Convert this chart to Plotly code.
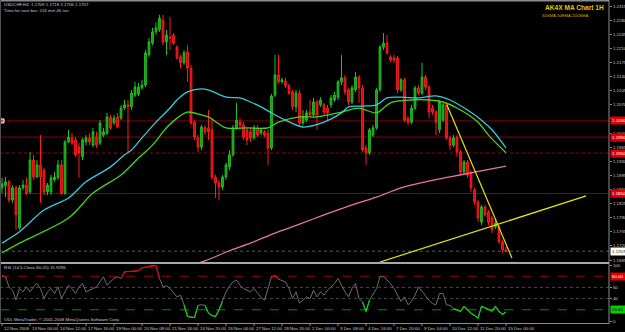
import plotly.graph_objects as go

W, H = 625, 332
AXIS_PX = 609          # right price-axis line (pixels)
MAIN_BOTTOM_PX = 262   # bottom of price panel
RSI_TOP_PX, RSI_BOT_PX = 265, 321

# ---------------- data ----------------
opens = [1.1864,1.1869,1.1879,1.1834,1.1864,1.1765,1.1864,1.1871,1.1854,1.1933,
         1.1891,1.1921,1.1908,1.1854,1.1854,1.1884,1.1889,1.1921,1.1851,1.1978,
         1.1988,1.1983,1.1965,1.1941,1.1978,1.1988,1.1970,1.1990,1.1975,1.1995,
         1.2000,1.2040,1.2025,1.2040,1.2037,1.2062,1.2070,1.2065,1.2094,1.2097,
         1.2112,1.2119,1.2194,1.2223,1.2251,1.2256,1.2280,1.2226,1.2238,1.2243,
         1.2213,1.2189,1.2174,1.2201,1.2161,1.2027,1.1988,1.1965,1.2013,1.2013,
         1.2008,1.1891,1.1876,1.1866,1.1891,1.1916,1.1946,1.2013,1.2027,1.2020,
         1.2008,1.2003,1.1988,1.2013,1.2000,1.2003,1.2000,1.1963,1.2094,1.2144,
         1.2127,1.2129,1.2117,1.2102,1.2065,1.2099,1.2025,1.2032,1.2052,1.2045,
         1.2077,1.2070,1.2070,1.2062,1.2070,1.2082,1.2089,1.2127,1.2137,1.2107,
         1.2077,1.2107,1.2139,1.2112,1.1963,1.1951,1.1995,1.2013,1.2107,1.2213,
         1.2223,1.2189,1.2186,1.2186,1.2107,1.2132,1.2037,1.2027,1.2062,1.2112,
         1.2099,1.2139,1.2114,1.2062,1.2052,1.2008,1.2032,1.2070,1.1988,1.1970,
         1.1990,1.1953,1.1903,1.1928,1.1901,1.1859,1.1829,1.1779,1.1817,1.1804,
         1.1789,1.1767,1.1767,1.1730,1.1709]
highs = [1.1889,1.1891,1.1884,1.1871,1.1869,1.1871,1.1884,1.1889,1.1953,1.1946,
         1.1933,1.1995,1.1913,1.1876,1.1896,1.1903,1.1933,1.1933,1.1983,1.2008,
         1.2000,1.1990,1.1975,1.1988,1.1995,1.2000,1.2013,1.2003,1.2032,1.2013,
         1.2050,1.2045,1.2045,1.2050,1.2070,1.2082,1.2082,1.2107,1.2127,1.2124,
         1.2132,1.2206,1.2236,1.2261,1.2275,1.2293,1.2293,1.2256,1.2288,1.2248,
         1.2218,1.2194,1.2206,1.2218,1.2169,1.2032,1.1995,1.2020,1.2020,1.2057,
         1.2032,1.1896,1.1884,1.1896,1.1926,1.1958,1.2020,1.2075,1.2037,1.2027,
         1.2013,1.2013,1.2020,1.2020,1.2013,1.2008,1.2008,1.2097,1.2194,1.2194,
         1.2137,1.2137,1.2122,1.2107,1.2107,1.2107,1.2057,1.2057,1.2082,1.2087,
         1.2082,1.2089,1.2075,1.2070,1.2094,1.2102,1.2132,1.2194,1.2144,1.2112,
         1.2119,1.2151,1.2144,1.2119,1.1970,1.2013,1.2020,1.2112,1.2218,1.2248,
         1.2243,1.2194,1.2194,1.2191,1.2137,1.2137,1.2042,1.2070,1.2117,1.2119,
         1.2174,1.2144,1.2119,1.2070,1.2057,1.2082,1.2075,1.2075,1.1993,1.1995,
         1.1995,1.1958,1.1933,1.1933,1.1908,1.1864,1.1834,1.1822,1.1822,1.1809,
         1.1794,1.1784,1.1772,1.1735,1.1718]
lows =  [1.1851,1.1841,1.1827,1.1827,1.1760,1.1760,1.1859,1.1846,1.1849,1.1884,
         1.1889,1.1827,1.1846,1.1846,1.1846,1.1879,1.1884,1.1846,1.1846,1.1975,
         1.1970,1.1941,1.1889,1.1933,1.1970,1.1970,1.1965,1.1963,1.1970,1.1990,
         1.1995,1.2008,1.2020,1.2013,1.2032,1.2057,1.1951,1.2057,1.2089,1.2092,
         1.2107,1.2114,1.2189,1.2218,1.2243,1.2251,1.2218,1.2194,1.2206,1.2218,
         1.2181,1.2161,1.2169,1.2127,1.2020,1.1983,1.1953,1.1958,1.1995,1.1983,
         1.1884,1.1839,1.1834,1.1859,1.1884,1.1908,1.1941,1.2008,1.2008,1.1983,
         1.1970,1.1978,1.1983,1.1990,1.1995,1.1990,1.1921,1.1958,1.2089,1.2122,
         1.2122,1.2112,1.2094,1.2057,1.2052,1.2020,1.2020,1.2027,1.2040,1.2040,
         1.2008,1.2065,1.2045,1.2032,1.2062,1.2077,1.2082,1.2119,1.2094,1.2070,
         1.2072,1.2102,1.2075,1.1953,1.1921,1.1946,1.1990,1.2008,1.2102,1.2206,
         1.2194,1.2176,1.2174,1.2099,1.2102,1.2027,1.2020,1.2022,1.2057,1.2094,
         1.2094,1.2107,1.2037,1.2045,1.1995,1.2000,1.2027,1.1983,1.1958,1.1965,
         1.1941,1.1896,1.1898,1.1889,1.1854,1.1822,1.1779,1.1772,1.1792,1.1772,
         1.1752,1.1762,1.1725,1.1703,1.1706]
closes = [1.1874,1.1879,1.1834,1.1864,1.1797,1.1864,1.1871,1.1851,1.1933,1.1891,
          1.1921,1.1891,1.1854,1.1871,1.1889,1.1891,1.1921,1.1851,1.1978,1.1990,
          1.1975,1.1946,1.1951,1.1983,1.1988,1.1978,1.2003,1.1970,1.2025,1.2003,
          1.2040,1.2013,1.2037,1.2015,1.2062,1.2070,1.2065,1.2099,1.2114,1.2114,
          1.2119,1.2199,1.2226,1.2251,1.2261,1.2285,1.2226,1.2243,1.2236,1.2223,
          1.2186,1.2174,1.2199,1.2161,1.2025,1.1990,1.1965,1.2015,1.2003,1.2003,
          1.1891,1.1876,1.1866,1.1891,1.1921,1.1946,1.2013,1.2032,1.2020,1.1990,
          1.1983,1.1988,1.2013,1.1995,1.2008,1.1995,1.1963,1.2092,1.2144,1.2127,
          1.2132,1.2117,1.2099,1.2065,1.2099,1.2025,1.2040,1.2050,1.2045,1.2077,
          1.2045,1.2082,1.2052,1.2050,1.2087,1.2094,1.2127,1.2137,1.2102,1.2077,
          1.2112,1.2139,1.2112,1.1958,1.1951,1.2008,1.2013,1.2107,1.2213,1.2223,
          1.2199,1.2181,1.2181,1.2107,1.2132,1.2032,1.2027,1.2062,1.2112,1.2099,
          1.2139,1.2114,1.2052,1.2052,1.2027,1.2077,1.2070,1.1988,1.1970,1.1988,
          1.1953,1.1903,1.1928,1.1896,1.1864,1.1829,1.1789,1.1817,1.1797,1.1779,
          1.1760,1.1777,1.1730,1.1710,1.1707]
bars = list(range(len(closes)))

rsi = [81,79,61,55,38,58,52,61,52,61, 67,58,40,52,58,49,61,40,52,64,
       58,49,61,67,52,55,58,61,70,79, 64,70,76,79,76,88,88,89,89,90,
       95,96,98,99,99,76,61,63,58,50, 43,46,29,8,7,6,28,29,28,14,
       10,8,20,35,52,62,70,73,64,58, 55,52,58,49,42,37,58,79,81,75,
       72,70,58,40,52,32,37,43,40,55, 43,52,46,55,61,67,76,64,52,43,
       58,67,40,34,17,37,48,58,79,79, 73,67,58,45,35,43,29,35,46,61,
       52,45,37,31,29,49,49,29,28,22, 20,17,26,20,14,10,5,26,23,20,
       18,26,17,12,15.93]

sma34_bar = [0,5,12,19,24,31,35,37,40,44,48,50,53,58,64,68,71,74,77,81,86,92,97,99,
             103,107,110,114,119,124,128,133,137,140,144]
sma34_val = [1.1727,1.1755,1.1809,1.1839,1.1879,1.1916,1.1946,1.1958,1.1988,1.2027,
             1.2062,1.2082,1.2102,1.2109,1.2089,1.2087,1.2077,1.2065,1.2050,1.2032,
             1.2015,1.2027,1.2050,1.2065,1.2067,1.2070,1.2087,1.2089,1.2087,1.2092,
             1.2082,1.2057,1.2032,1.2008,1.1963]
ema50_bar = [0,5,19,26,34,39,43,47,50,53,57,59,64,70,76,79,85,90,97,102,107,111,117,
             122,126,130,136,139,144]
ema50_val = [1.1703,1.1727,1.1789,1.1851,1.1896,1.1938,1.1970,1.2013,1.2037,1.2052,
             1.2045,1.2040,1.2013,1.2013,1.2013,1.2027,1.2040,1.2040,1.2052,1.2062,
             1.2050,1.2075,1.2082,1.2082,1.2077,1.2062,1.2027,1.1995,1.1951]
ma200_bar = [55,58,65,71,78,85,92,99,107,114,121,128,135,144]
ma200_val = [1.1675,1.1683,1.1708,1.1727,1.1752,1.1774,1.1797,1.1819,1.1841,1.1864,
             1.1879,1.1891,1.1903,1.1918]

trend_down_bar = [127.1, 145.7]
trend_down_val = [1.2070, 1.1690]
trend_up_bar = [108.0, 166.9]
trend_up_val = [1.1680, 1.1844]

levels = [1.2030, 1.1990, 1.1950, 1.1850]
level_text = ["1.2030", "1.1990", "1.1950", "1.1850"]
level_dash = ["solid", "solid", "dot", "solid"]
bid = 1.1707

price_ticks = [1.1685,1.1720,1.1755,1.1790,1.1825,1.1860,1.1895,1.1930,1.1965,1.2000,
               1.2035,1.2070,1.2105,1.2140,1.2175,1.2210,1.2245,1.2280,1.2315]
rsi_ticks = [0, 40, 60, 100]
rsi_levels = [80, 60, 40, 20]

time_bar = [0,8,16,24,32,40,48,56,64,72,80,88,96,104,112,120,128,136,144]
time_text = ["12 Nov 2008","13 Nov 04:00","14 Nov 12:00","17 Nov 16:00","19 Nov 00:00",
             "20 Nov 08:00","21 Nov 16:00","24 Nov 20:00","26 Nov 04:00","27 Nov 12:00",
             "28 Nov 20:00","2 Dec 00:00","3 Dec 08:00","4 Dec 16:00","7 Dec 20:00",
             "9 Dec 04:00","10 Dec 12:00","11 Dec 20:00","15 Dec 00:00"]

# ---------------- geometry helpers ----------------
def py(px):  # pixel row -> paper y
    return 1 - px / H

XD = AXIS_PX / W
BAR_PX = 3.5
X0_PX = 2.0
x_range = [-X0_PX / BAR_PX, (AXIS_PX - X0_PX) / BAR_PX]
PSLOPE = 0.0035 / 14.11
p_top = 1.2315 + 6.05 * PSLOPE
p_bot = p_top - MAIN_BOTTOM_PX * PSLOPE

FONT = "Liberation Sans"
TXT = "#c8c8c8"
FS = 4.4

fig = go.Figure()

fig.add_trace(go.Candlestick(
    x=bars, open=opens, high=highs, low=lows, close=closes,
    xaxis="x", yaxis="y",
    increasing=dict(line=dict(color="#22c022", width=1), fillcolor="#149a14"),
    decreasing=dict(line=dict(color="#ff1c1c", width=1), fillcolor="#e40000"),
    whiskerwidth=0, showlegend=False, hoverinfo="skip"))

for bx, vy, col, wd in [(ma200_bar, ma200_val, "#e676a8", 1.3),
                        (ema50_bar, ema50_val, "#44d41c", 1.3),
                        (sma34_bar, sma34_val, "#38cadc", 1.3)]:
    fig.add_trace(go.Scatter(x=bx, y=vy, mode="lines", xaxis="x", yaxis="y",
                             line=dict(color=col, width=wd, shape="spline", smoothing=0.9),
                             showlegend=False, hoverinfo="skip"))

for bx, vy in [(trend_down_bar, trend_down_val), (trend_up_bar, trend_up_val)]:
    fig.add_trace(go.Scatter(x=bx, y=vy, mode="lines", xaxis="x", yaxis="y",
                             line=dict(color="#e6e600", width=1.2),
                             showlegend=False, hoverinfo="skip"))

# small anchor marker on first horizontal line
fig.add_trace(go.Scatter(x=[bars[0]], y=[levels[0]], mode="markers", xaxis="x", yaxis="y",
                         marker=dict(symbol="square", size=4, color="#ff3030",
                                     line=dict(color="#ffffff", width=1)),
                         showlegend=False, hoverinfo="skip"))

# RSI
fig.add_trace(go.Scatter(x=bars, y=rsi, mode="lines", xaxis="x2", yaxis="y2",
                         line=dict(color="#6e6e6e", width=1), showlegend=False, hoverinfo="skip"))
red_seg = [v if (v >= 80 or (i > 0 and rsi[i-1] >= 80) or (i < len(rsi)-1 and rsi[i+1] >= 80)) else None
           for i, v in enumerate(rsi)]
grn_seg = [v if (v <= 20 or (i > 0 and rsi[i-1] <= 20) or (i < len(rsi)-1 and rsi[i+1] <= 20)) else None
           for i, v in enumerate(rsi)]
fig.add_trace(go.Scatter(x=bars, y=red_seg, mode="lines", xaxis="x2", yaxis="y2",
                         line=dict(color="#e00000", width=1.2), connectgaps=False,
                         showlegend=False, hoverinfo="skip"))
fig.add_trace(go.Scatter(x=bars, y=grn_seg, mode="lines", xaxis="x2", yaxis="y2",
                         line=dict(color="#10d010", width=1.2), connectgaps=False,
                         showlegend=False, hoverinfo="skip"))

shapes = []
for lv, dsh in zip(levels, level_dash):
    shapes.append(dict(type="line", xref="paper", yref="y", x0=0, x1=XD, y0=lv, y1=lv,
                       line=dict(color="#8c0000", width=1.3 if dsh == "dot" else 1, dash=dsh),
                       layer="below"))
shapes.append(dict(type="line", xref="paper", yref="y", x0=0, x1=XD, y0=bid, y1=bid,
                   line=dict(color="#4a6464", width=1, dash="dot"), layer="below"))
rsi_cols = {80: ("#a00000", "dash"), 60: ("#4a4a4a", "dot"), 40: ("#4a4a4a", "dot"),
            20: ("#009000", "dash")}
for lv in rsi_levels:
    c, d = rsi_cols[lv]
    shapes.append(dict(type="line", xref="paper", yref="y2", x0=0, x1=XD, y0=lv, y1=lv,
                       line=dict(color=c, width=1, dash=d), layer="below"))
# frames
G = "#8c8c8c"
shapes += [
    dict(type="line", xref="paper", yref="paper", x0=XD, x1=XD, y0=py(0), y1=py(324),
         line=dict(color=G, width=1)),
    dict(type="line", xref="paper", yref="paper", x0=0, x1=XD, y0=py(0.8), y1=py(0.8),
         line=dict(color=G, width=1.5)),
    dict(type="line", xref="paper", yref="paper", x0=0, x1=XD, y0=py(263), y1=py(263),
         line=dict(color="#a8a8a8", width=2)),
    dict(type="line", xref="paper", yref="paper", x0=0, x1=XD, y0=py(323.5), y1=py(323.5),
         line=dict(color=G, width=1)),
    dict(type="line", xref="paper", yref="paper", x0=0.0008, x1=0.0008, y0=py(0), y1=py(324),
         line=dict(color="#505050", width=1)),
]
for tb in time_bar:
    shapes.append(dict(type="line", xref="x2", yref="paper", x0=tb, x1=tb, y0=py(323.5), y1=py(326),
                       line=dict(color=G, width=1)))

ann = []
def A(text, x, y, xref="paper", yref="paper", xanchor="left", size=FS, color=TXT, bg=None, **kw):
    d = dict(text=text, x=x, y=y, xref=xref, yref=yref, xanchor=xanchor, yanchor="middle",
             showarrow=False, font=dict(family=FONT, size=size, color=color), borderpad=0)
    if bg:
        d["bgcolor"] = bg
    d.update(kw)
    ann.append(d)

A("USDCHF,H4  1.1709 1.1718 1.1706 1.1707", 0.004, py(4.5))
A("Time for next bar: 224 min 46 sec", 0.004, py(10))
A("<b>AK4X MA Chart 1H</b>", 605 / W, py(7.5), xanchor="right", size=6.6, color="#e6c400",
  font=dict(family="Liberation Sans", size=6.6, color="#e6c400"))
A("34SMA-50EMA-200SMA", 590 / W, py(15.5), xanchor="right", size=4.2, color="#d0a800")
A("RSI (14,5,Close,80,20) 15.9296", 0.004, py(267.5))
A("ODL MetaTrader, © 2001-2008 MetaQuotes Software Corp.", 0.004, py(319.5))
for tb, tt in zip(time_bar, time_text):
    A(tt, tb, py(328.5), xref="x2", xshift=1)
for lv, lt in zip(levels, level_text):
    A(lt, XD, lv, yref="y", size=FS, color="#ffffff", bg="#e00000", xshift=1, borderpad=1)
A("1.1707", XD, bid, yref="y", size=FS, color="#000000", bg="#ffffff", xshift=1, borderpad=1)
A("80.00", XD, 80, yref="y2", size=FS, color="#ffffff", bg="#e00000", xshift=1, borderpad=1)
A("20.00", XD, 20, yref="y2", size=FS, color="#000000", bg="#00d000", xshift=1, borderpad=1)

fig.update_layout(
    width=W, height=H, margin=dict(l=0, r=0, t=0, b=0),
    paper_bgcolor="#000000", plot_bgcolor="#000000", template="none",
    showlegend=False,
    xaxis=dict(domain=[0, XD], range=x_range, anchor="y", visible=False,
               rangeslider=dict(visible=False), fixedrange=True),
    xaxis2=dict(domain=[0, XD], range=x_range, anchor="y2", visible=False, matches="x"),
    yaxis=dict(domain=[py(MAIN_BOTTOM_PX), 1], range=[p_bot, p_top], anchor="x", side="right",
               tickvals=price_ticks, ticktext=[f"{v:.4f}" for v in price_ticks],
               ticks="outside", ticklen=2, tickcolor=G, tickwidth=1,
               tickfont=dict(family=FONT, size=FS, color=TXT),
               showgrid=False, zeroline=False, showline=False, automargin=False),
    yaxis2=dict(domain=[py(RSI_BOT_PX), py(RSI_TOP_PX)], range=[0, 100], anchor="x2", side="right",
                tickvals=rsi_ticks, ticktext=[str(v) for v in rsi_ticks],
                ticks="outside", ticklen=2, tickcolor=G, tickwidth=1,
                tickfont=dict(family=FONT, size=FS, color=TXT),
                showgrid=False, zeroline=False, showline=False, automargin=False),
    shapes=shapes, annotations=ann,
)

fig.write_html("out.html")
